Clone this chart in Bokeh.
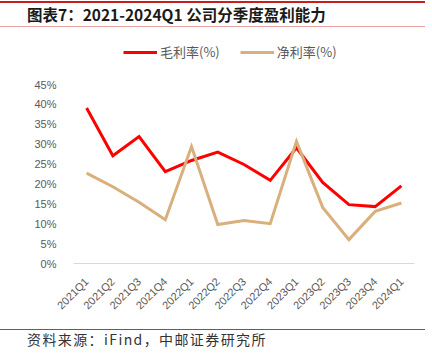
from bokeh.plotting import figure
from bokeh.models import FactorRange, Range1d, Legend, LegendItem, ColumnDataSource, FixedTicker, Div
from bokeh.layouts import column
from bokeh.embed import file_html
from bokeh.resources import INLINE
import math

# ---- data ----
quarters = ["2021Q1", "2021Q2", "2021Q3", "2021Q4", "2022Q1", "2022Q2", "2022Q3",
            "2022Q4", "2023Q1", "2023Q2", "2023Q3", "2023Q4", "2024Q1"]
gross_margin = [39.1, 27.1, 31.9, 23.1, 25.9, 28.0, 24.9, 20.9, 29.1, 20.4, 14.8, 14.3, 19.5]
net_margin = [22.7, 19.3, 15.4, 11.0, 29.4, 9.8, 10.8, 10.0, 30.7, 14.1, 6.0, 13.1, 15.2]
y_ticks = [0, 5, 10, 15, 20, 25, 30, 35, 40, 45]
y_tick_labels = [f"{t}%" for t in y_ticks]
series_names = ["毛利率(%)", "净利率(%)"]
title_text = "图表7：2021-2024Q1 公司分季度盈利能力"
source_text = "资料来源：iFind，中邮证券研究所"

W = 432
TOP_H, CHART_H, BOT_H = 30, 290, 37

# ---- title strip (HTML) ----
top = Div(width=W, height=TOP_H, margin=(0, 0, 0, 0), text=(
    f'<div style="position:relative;width:{W}px;height:{TOP_H}px;overflow:hidden;">'
    '<div style="position:absolute;left:0;top:0.5px;width:425px;height:2px;background:#C81E1E;"></div>'
    '<div style="position:absolute;left:27px;top:4px;font-family:\'Noto Sans CJK SC\';'
    'font-weight:bold;font-size:15.5px;line-height:20px;color:#1a1a1a;white-space:nowrap;">'
    f'{title_text}</div>'
    '<div style="position:absolute;left:0;top:25.5px;width:425px;height:1.5px;background:#E8A0A0;"></div>'
    '</div>'))

# ---- chart ----
px_per_unit = 179 / 45.0
y_top = (263 - 30) / px_per_unit
p = figure(width=W, height=CHART_H, output_backend="svg", toolbar_location=None,
           x_range=FactorRange(*quarters), y_range=Range1d(0, y_top),
           min_border_left=73, min_border_right=W - 414,
           min_border_top=0, min_border_bottom=CHART_H - (263 - 30), margin=(0, 0, 0, 0))
p.outline_line_color = None
p.xgrid.grid_line_color = None
p.ygrid.grid_line_color = None

src = ColumnDataSource(dict(q=quarters, g=gross_margin, n=net_margin))
r1 = p.line("q", "g", source=src, line_color="#FF0000", line_width=3, line_join="miter")
r2 = p.line("q", "n", source=src, line_color="#D9B07C", line_width=3, line_join="miter")

p.yaxis.ticker = FixedTicker(ticks=y_ticks)
p.yaxis.major_label_overrides = {t: l for t, l in zip(y_ticks, y_tick_labels)}
p.yaxis.axis_line_color = None
p.yaxis.major_tick_line_color = None
p.yaxis.minor_tick_line_color = None
p.yaxis.major_label_text_font = "Liberation Sans"
p.yaxis.major_label_text_font_size = "11px"
p.yaxis.major_label_text_color = "#595959"
p.yaxis.major_label_standoff = 11

p.xaxis.axis_line_color = "#D9D9D9"
p.xaxis.major_tick_line_color = None
p.xaxis.minor_tick_line_color = None
p.xaxis.major_label_orientation = math.pi / 4
p.xaxis.major_label_text_font = "Liberation Sans"
p.xaxis.major_label_text_font_size = "11px"
p.xaxis.major_label_text_color = "#595959"
p.xaxis.major_label_standoff = 10

legend = Legend(items=[LegendItem(label=series_names[0], renderers=[r1]),
                       LegendItem(label=series_names[1], renderers=[r2])],
                orientation="horizontal", location=(123 - 73, (263 - 30) - 31),
                glyph_width=34, glyph_height=14, label_standoff=3, spacing=20,
                padding=0, margin=0, border_line_color=None,
                background_fill_alpha=0,
                label_text_font="Noto Sans CJK SC", label_text_font_size="13px",
                label_text_color="#595959")
p.add_layout(legend, "center")

# ---- source strip (HTML) ----
bot = Div(width=W, height=BOT_H, margin=(0, 0, 0, 0), text=(
    f'<div style="position:relative;width:{W}px;height:{BOT_H}px;overflow:hidden;">'
    '<div style="position:absolute;left:0;top:8.5px;width:425px;height:1px;background:#C0392B;"></div>'
    '<div style="position:absolute;left:27px;top:10px;font-family:\'Noto Sans CJK SC\';'
    'font-size:14px;line-height:18px;letter-spacing:1.4px;color:#333333;white-space:nowrap;">'
    f'{source_text}</div>'
    '</div>'))

layout = column(top, p, bot, spacing=0)
open("out.html", "w").write(file_html(layout, INLINE))
